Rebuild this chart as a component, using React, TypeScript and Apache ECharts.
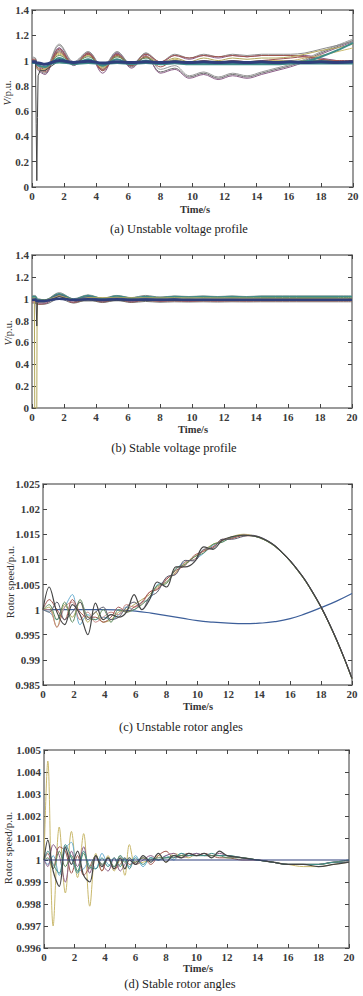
import React, { useEffect, useRef } from "react";
import * as echarts from "echarts";

// ---------- shared time bases ----------
const T_OSC = [0, 0.2, 0.3, 0.4, 0.8, 1.7, 2.6, 3.5, 4.4, 5.3, 6.2, 7.1, 8.0, 8.9, 9.8, 10.7, 11.6, 12.5, 13.4, 14.3, 15.2, 16.1, 17, 18, 19, 20];

// ---------- (a) unstable voltage profile ----------
const A1 = [1.0, 1.0, 0.95, 0.93, 0.9, 1.08, 0.97, 1.05, 0.92, 1.05, 0.95, 1.03, 0.91, 0.94, 0.87, 0.9, 0.86, 0.89, 0.87, 0.9, 0.93, 0.96, 1.0, 1.06, 1.11, 1.16];
const A2 = [1.0, 0.99, 0.94, 0.92, 0.89, 1.1, 0.96, 1.06, 0.9, 1.06, 0.94, 1.04, 0.9, 0.93, 0.86, 0.89, 0.85, 0.88, 0.86, 0.89, 0.92, 0.95, 0.99, 1.05, 1.1, 1.15];
const A3 = [1.02, 1.02, 0.98, 0.96, 0.93, 1.12, 0.98, 1.07, 0.94, 1.07, 0.96, 1.06, 0.99, 1.05, 1.02, 1.05, 1.03, 1.05, 1.04, 1.05, 1.05, 1.05, 1.06, 1.09, 1.12, 1.15];
const A4 = [1.01, 1.0, 0.97, 0.95, 0.92, 1.1, 0.97, 1.06, 0.93, 1.06, 0.96, 1.05, 0.98, 1.04, 1.01, 1.04, 1.02, 1.04, 1.03, 1.04, 1.04, 1.04, 1.04, 1.02, 1.0, 0.99];
const A5 = [1.0, 1.0, 0.97, 0.96, 0.94, 1.06, 0.97, 1.04, 0.95, 1.04, 0.97, 1.03, 0.98, 1.02, 0.99, 1.02, 1.0, 1.02, 1.01, 1.02, 1.02, 1.03, 1.05, 1.08, 1.1, 1.13];
const A6 = [0.98, 0.98, 0.97, 0.96, 0.95, 1.02, 0.97, 1.01, 0.96, 1.01, 0.97, 1.0, 0.97, 0.98, 0.97, 0.97, 0.97, 0.97, 0.97, 0.97, 0.97, 0.98, 0.99, 1.03, 1.08, 1.14];
const A7 = [1.0, 0.99, 0.95, 0.94, 0.91, 1.07, 0.97, 1.05, 0.92, 1.04, 0.96, 1.03, 0.95, 1.0, 0.97, 1.0, 0.98, 1.0, 0.99, 1.0, 1.01, 1.02, 1.03, 1.01, 0.99, 0.98];
const A8 = [0.99, 0.99, 0.97, 0.96, 0.95, 1.04, 0.98, 1.03, 0.96, 1.03, 0.98, 1.02, 0.97, 1.0, 0.98, 0.99, 0.98, 0.99, 0.98, 0.99, 0.99, 0.99, 1.0, 1.0, 0.99, 0.98];
const A9 = [1.03, 1.02, 0.98, 0.97, 0.94, 1.13, 0.99, 1.07, 0.95, 1.07, 0.97, 1.06, 0.93, 0.96, 0.88, 0.91, 0.87, 0.9, 0.88, 0.91, 0.94, 0.97, 1.01, 1.07, 1.12, 1.17];
const A10 = [1.0, 0.98, 0.94, 0.93, 0.93, 1.05, 0.98, 1.04, 0.94, 1.03, 0.97, 1.03, 0.97, 1.01, 0.98, 1.0, 0.99, 1.0, 0.99, 1.0, 1.0, 1.0, 1.02, 1.04, 1.07, 1.1];
const A11 = [1.01, 1.01, 0.97, 0.96, 0.93, 1.09, 0.97, 1.06, 0.93, 1.05, 0.96, 1.05, 0.99, 1.04, 1.02, 1.04, 1.03, 1.04, 1.03, 1.04, 1.04, 1.04, 1.03, 1.01, 1.0, 1.0];
const A12 = [0.99, 0.99, 0.98, 0.98, 0.97, 1.0, 0.985, 0.995, 0.98, 0.99, 0.985, 0.99, 0.985, 0.99, 0.985, 0.99, 0.985, 0.99, 0.985, 0.99, 0.985, 0.99, 0.985, 0.99, 0.985, 0.99];
const A13 = [0.98, 0.98, 0.975, 0.97, 0.97, 0.985, 0.975, 0.98, 0.975, 0.98, 0.975, 0.98, 0.975, 0.978, 0.975, 0.977, 0.975, 0.977, 0.975, 0.977, 0.976, 0.977, 0.977, 0.977, 0.977, 0.977];
const T_A_DIP = [0, 0.22, 0.26, 0.3, 0.34, 0.38, 0.5, 0.8, 1.7, 2.6, 3.5, 4.4, 5.3, 6.2, 7.1, 8, 20];
const A_DIP = [0.99, 0.98, 0.5, 0.05, 0.55, 0.88, 0.92, 0.92, 1.0, 0.97, 1.0, 0.97, 0.99, 0.98, 0.99, 0.98, 0.98];

// ---------- (b) stable voltage profile ----------
const B1 = [1.03, 1.03, 1.01, 1.0, 0.99, 1.055, 1.0, 1.035, 1.005, 1.03, 1.01, 1.03, 1.015, 1.025, 1.02, 1.025, 1.02, 1.025, 1.02, 1.025, 1.025, 1.025, 1.025, 1.025, 1.025, 1.025];
const B2 = [1.02, 1.02, 1.0, 0.99, 0.985, 1.045, 0.995, 1.03, 1.0, 1.025, 1.005, 1.02, 1.01, 1.02, 1.015, 1.02, 1.015, 1.02, 1.015, 1.02, 1.02, 1.02, 1.02, 1.02, 1.02, 1.02];
const B3 = [0.97, 0.97, 0.955, 0.95, 0.955, 1.02, 0.965, 1.0, 0.97, 0.995, 0.97, 0.985, 0.975, 0.98, 0.975, 0.98, 0.977, 0.98, 0.978, 0.98, 0.98, 0.98, 0.98, 0.98, 0.98, 0.98];
const B4 = [0.98, 0.98, 0.965, 0.96, 0.96, 1.03, 0.97, 1.01, 0.975, 1.0, 0.975, 0.99, 0.98, 0.985, 0.98, 0.985, 0.982, 0.984, 0.983, 0.984, 0.984, 0.984, 0.984, 0.984, 0.984, 0.984];
const B5 = [1.0, 1.0, 0.99, 0.985, 0.98, 1.035, 0.985, 1.015, 0.99, 1.01, 0.99, 1.005, 0.995, 1.0, 0.985, 0.995, 0.99, 0.995, 0.99, 0.995, 0.993, 0.995, 0.995, 0.995, 0.995, 0.995];
const B6 = [0.96, 0.96, 0.95, 0.95, 0.95, 1.0, 0.96, 0.99, 0.965, 0.985, 0.965, 0.975, 0.968, 0.972, 0.97, 0.972, 0.97, 0.972, 0.971, 0.972, 0.972, 0.972, 0.972, 0.972, 0.972, 0.972];
const B7 = [1.01, 1.01, 0.995, 0.99, 0.99, 1.04, 0.99, 1.02, 0.995, 1.015, 1.0, 1.01, 1.005, 1.01, 1.005, 1.01, 1.007, 1.01, 1.008, 1.01, 1.01, 1.01, 1.01, 1.01, 1.01, 1.01];
const B8 = [0.99, 0.99, 0.98, 0.98, 0.98, 1.0, 0.99, 0.995, 0.99, 0.995, 0.99, 0.993, 0.99, 0.992, 0.99, 0.991, 0.99, 0.99, 0.99, 0.99, 0.99, 0.99, 0.99, 0.99, 0.99, 0.99];
const T_B_DIP1 = [0, 0.15, 0.17, 0.3, 0.32, 0.4, 0.8, 1.7, 2.6, 3.5, 20];
const B_DIP1 = [1.0, 1.0, 0.0, 0.0, 0.97, 0.98, 0.98, 1.03, 0.99, 1.01, 1.0];
const T_B_DIP2 = [0, 0.25, 0.3, 0.34, 0.4, 0.8, 1.7, 2.6, 20];
const B_DIP2 = [0.99, 0.99, 0.75, 0.96, 0.97, 0.97, 1.02, 0.98, 0.99];

// ---------- (c) unstable rotor angles ----------
const T_C = [0, 0.4, 0.9, 1.4, 1.9, 2.4, 2.9, 3.4, 3.9, 4.4, 4.9, 5.4, 5.9, 6.4, 6.9, 7.4, 8, 8.6, 9.2, 9.8, 10.4, 11, 11.6, 12.2, 13, 13.5, 14, 14.5, 15, 15.5, 16, 16.5, 17, 17.5, 18, 18.5, 19, 19.5, 20];
const C1 = [1.0, 1.0045, 0.9995, 0.997, 1.001, 0.999, 0.995, 1.0013, 0.998, 0.999, 0.9985, 0.9995, 1.003, 1.0, 1.002, 1.0055, 1.0045, 1.0085, 1.0085, 1.0095, 1.0125, 1.012, 1.0138, 1.0145, 1.0148, 1.0147, 1.0144, 1.0137, 1.0127, 1.0113, 1.0097, 1.0078, 1.0057, 1.0032, 1.0005, 0.9974, 0.994, 0.9903, 0.9863];
const C2 = [1.0, 0.9995, 0.998, 1.0005, 1.003, 0.997, 0.999, 0.998, 0.9985, 0.998, 0.999, 1.0005, 1.0, 1.0015, 1.002, 1.005, 1.0055, 1.008, 1.0095, 1.01, 1.0112, 1.0128, 1.0135, 1.0143, 1.0149, 1.0147, 1.0144, 1.0137, 1.0127, 1.0113, 1.0097, 1.0078, 1.0057, 1.0032, 1.0005, 0.9974, 0.994, 0.9903, 0.9863];
const C3 = [1.0, 1.0005, 0.9965, 1.001, 0.9985, 1.0015, 0.9975, 0.9995, 0.9975, 0.998, 0.9995, 1.0, 1.001, 1.002, 1.003, 1.0045, 1.0055, 1.0075, 1.0092, 1.0105, 1.0118, 1.013, 1.0137, 1.0145, 1.015, 1.0148, 1.0143, 1.0136, 1.0126, 1.0112, 1.0096, 1.0077, 1.0056, 1.0031, 1.0004, 0.9973, 0.9939, 0.9902, 0.9862];
const C4 = [1.0, 1.002, 1.0, 0.998, 1.002, 0.9995, 0.9985, 0.9985, 0.9975, 0.9985, 1.0005, 0.9995, 1.0005, 1.0015, 1.0035, 1.004, 1.006, 1.0078, 1.0088, 1.0108, 1.0116, 1.0125, 1.0138, 1.0142, 1.0147, 1.0147, 1.0144, 1.0137, 1.0127, 1.0113, 1.0097, 1.0078, 1.0057, 1.0032, 1.0005, 0.9974, 0.994, 0.9903, 0.9863];
const C5 = [1.0, 0.9995, 1.0015, 0.998, 0.9995, 1.0015, 0.998, 0.9995, 1.0005, 0.998, 0.9985, 1.0005, 1.0015, 1.0, 1.0025, 1.0035, 1.0065, 1.007, 1.0098, 1.0097, 1.012, 1.0122, 1.014, 1.014, 1.0146, 1.0148, 1.0145, 1.0138, 1.0128, 1.0114, 1.0098, 1.0079, 1.0058, 1.0033, 1.0006, 0.9975, 0.9941, 0.9904, 0.9864];
const C6 = [1.0, 1.001, 0.998, 1.0015, 0.9975, 1.002, 0.9985, 0.998, 1.0, 0.9975, 1.0, 0.9995, 1.0, 1.001, 1.0025, 1.0048, 1.0052, 1.0082, 1.009, 1.0105, 1.0113, 1.013, 1.0134, 1.0144, 1.0148, 1.0147, 1.0143, 1.0136, 1.0126, 1.0112, 1.0096, 1.0077, 1.0056, 1.0031, 1.0004, 0.9973, 0.9939, 0.9902, 0.9862];
const C7 = [1.0, 1.0, 0.9965, 1.0005, 1.0015, 0.998, 0.9995, 0.9975, 0.9985, 0.9995, 0.999, 1.001, 1.0005, 1.0012, 1.0035, 1.0042, 1.0062, 1.0072, 1.0095, 1.01, 1.0118, 1.0123, 1.014, 1.0141, 1.0149, 1.0147, 1.0144, 1.0137, 1.0127, 1.0113, 1.0097, 1.0078, 1.0057, 1.0032, 1.0005, 0.9974, 0.994, 0.9903, 0.9863];
const T_C_BLUE = [0, 2, 4, 5, 6, 7, 8, 9, 10, 11, 12, 13, 14, 15, 16, 17, 18, 19, 20];
const C_BLUE = [1.0, 1.0, 1.0, 0.9999, 0.9997, 0.9993, 0.9988, 0.9983, 0.9978, 0.9975, 0.9973, 0.9972, 0.9973, 0.9976, 0.9982, 0.9992, 1.0004, 1.0017, 1.0032];

// ---------- (d) stable rotor angles ----------
const T_D = [0, 0.25, 0.6, 1.0, 1.4, 1.8, 2.2, 2.6, 3.0, 3.4, 3.8, 4.2, 4.6, 5.0, 5.3, 5.6, 6.0, 6.5, 7.0, 7.5, 8.0, 8.5, 9.0, 9.5, 10, 10.5, 11, 11.5, 12, 13, 14, 15, 16, 17, 18, 19, 20];
const D1 = [1.0, 1.0045, 0.997, 1.0015, 0.9985, 1.0013, 0.9992, 1.0012, 0.9979, 1.0003, 0.9995, 1.0002, 0.9995, 1.0, 0.9993, 1.0007, 0.9998, 0.9999, 1.0, 1.0002, 0.9999, 1.0003, 1.0002, 1.0001, 1.0003, 1.0002, 1.0002, 1.0002, 1.0002, 1.0001, 1.0, 0.9999, 0.9998, 0.9997, 0.9997, 0.9998, 0.9999];
const D2 = [1.0, 1.0009, 0.9995, 0.9988, 1.0006, 0.9998, 1.0004, 0.9993, 0.999, 1.0002, 0.9997, 1.0001, 0.9996, 1.0001, 0.9996, 1.0, 0.9998, 1.0002, 0.9999, 1.0003, 0.9999, 1.0002, 1.0001, 1.0003, 1.0002, 1.0003, 1.0001, 1.0004, 1.0002, 1.0001, 1.0, 0.9999, 0.9998, 0.9998, 0.9997, 0.9998, 0.9999];
const D3 = [1.0, 0.9998, 1.0002, 0.9993, 1.0005, 1.0008, 0.9995, 0.9996, 1.0, 0.9996, 1.0003, 0.9998, 0.9997, 1.0002, 1.0, 0.9997, 1.0002, 0.9997, 1.0001, 1.0, 1.0002, 1.0, 1.0003, 1.0002, 1.0003, 1.0002, 1.0002, 1.0002, 1.0002, 1.0001, 1.0, 0.9999, 0.9998, 0.9998, 0.9998, 0.9999, 1.0];
const D4 = [1.0, 1.0003, 0.9996, 1.0006, 1.0004, 0.9994, 1.0002, 0.9993, 0.9997, 1.0002, 0.9995, 1.0001, 0.9996, 0.9998, 1.0001, 0.9998, 0.9999, 1.0001, 0.9998, 1.0002, 1.0004, 1.0001, 1.0002, 1.0003, 1.0002, 1.0003, 1.0002, 1.0001, 1.0001, 1.0, 1.0, 0.9999, 0.9998, 0.9998, 0.9998, 0.9999, 0.9999];
const D5 = [1.0, 0.9997, 1.0007, 1.0002, 0.999, 1.0004, 0.9997, 1.0006, 0.9994, 1.0001, 0.9998, 0.9995, 1.0001, 0.9995, 0.9998, 1.0001, 0.9998, 1.0, 1.0002, 1.0, 1.0002, 1.0003, 1.0001, 1.0002, 1.0003, 1.0002, 1.0002, 1.0003, 1.0002, 1.0001, 1.0, 0.9999, 0.9998, 0.9998, 0.9998, 0.9999, 0.9999];
const D6 = [1.0, 1.0001, 0.9996, 1.0004, 0.9997, 1.0002, 0.9995, 1.0003, 0.9996, 1.0002, 0.9998, 1.0001, 0.9997, 1.0002, 0.9999, 1.0001, 0.9999, 1.0001, 1.0, 1.0001, 1.0001, 1.0002, 1.0002, 1.0002, 1.0002, 1.0002, 1.0002, 1.0002, 1.0001, 1.0001, 1.0, 0.9999, 0.9998, 0.9998, 0.9998, 0.9999, 1.0];
const D7 = [1.0, 1.0004, 0.9998, 0.9994, 1.0007, 1.0001, 0.9994, 1.0004, 0.9997, 0.9996, 1.0001, 0.9997, 1.0001, 0.9997, 1.0001, 0.9996, 1.0001, 0.9998, 1.0001, 1.0, 1.0001, 1.0001, 1.0003, 1.0002, 1.0002, 1.0002, 1.0003, 1.0002, 1.0002, 1.0001, 1.0, 0.9999, 0.9998, 0.9998, 0.9998, 0.9999, 0.9999];
const T_D_FLAT = [0, 20];
const D_FLAT = [1.0, 1.0];

// ---------- axis ticks ----------
const X_TICKS = { min: 0, max: 20, interval: 2 };
const Y_A = { min: 0, max: 1.4, interval: 0.2 };
const Y_B = { min: 0, max: 1.4, interval: 0.2 };
const Y_C = { min: 0.985, max: 1.025, interval: 0.005 };
const Y_D = { min: 0.996, max: 1.005, interval: 0.001 };

const CAPTIONS = ["(a) Unstable voltage profile", "(b) Stable voltage profile", "(c) Unstable rotor angles", "(d) Stable rotor angles"];

const SERIF = "'Liberation Serif', 'Times New Roman', serif";
const AX = "#7a7a7a";
const LBL = "#3a3a3a";

const GRIDS = [
  { left: 32, top: 10, width: 321, height: 177 },
  { left: 32, top: 255, width: 320, height: 153 },
  { left: 43, top: 484, width: 309, height: 201 },
  { left: 44, top: 750, width: 305, height: 198 },
];

const fmt = (v: number) => String(parseFloat(v.toFixed(4)));

const labelStyle = { color: LBL, fontFamily: SERIF, fontSize: 11, fontWeight: "bold" as const };

function xAxes(g: number) {
  const base = {
    type: "value",
    gridIndex: g,
    ...X_TICKS,
    axisLine: { show: true, onZero: false, lineStyle: { color: AX, width: 1.5 } },
    axisTick: { show: true, inside: true, length: 4, lineStyle: { color: "#444" } },
    splitLine: { show: false },
  };
  return [
    { ...base, position: "bottom", axisLabel: { show: true, ...labelStyle, margin: 3, formatter: fmt } },
    { ...base, position: "top", axisLabel: { show: false } },
  ];
}

function yAxes(g: number, r: { min: number; max: number; interval: number }) {
  const base = {
    type: "value",
    gridIndex: g,
    ...r,
    axisLine: { show: true, onZero: false, lineStyle: { color: AX, width: 1.5 } },
    axisTick: { show: true, inside: true, length: 4, lineStyle: { color: "#444" } },
    splitLine: { show: false },
  };
  return [
    { ...base, position: "left", axisLabel: { show: true, ...labelStyle, margin: 3, formatter: fmt } },
    { ...base, position: "right", axisLabel: { show: false } },
  ];
}

function line(g: number, t: number[], v: number[], color: string, width = 1, smooth: boolean | number = 0.35) {
  return {
    type: "line",
    xAxisIndex: 2 * g,
    yAxisIndex: 2 * g,
    data: t.map((x, i) => [x, v[i]]),
    smooth,
    symbol: "none",
    silent: true,
    lineStyle: { color, width },
  };
}

const C = {
  gray: "#707070",
  dark: "#454545",
  purple: "#8a5c86",
  olive: "#b3a85a",
  teal: "#3f8c88",
  navy: "#2f3f7c",
  brown: "#a0564f",
  lblue: "#6aaed0",
  green: "#5f8a5c",
  khaki: "#c9b86c",
  pink: "#c98a86",
  blue: "#3d5f9a",
};

export default function App() {
  const ref = useRef<HTMLDivElement>(null);
  useEffect(() => {
    if (!ref.current) return;
    const chart = echarts.init(ref.current, undefined, { renderer: "svg" });

    const series = [
      // (a)
      line(0, T_OSC, A9, "#9a9a9a"),
      line(0, T_OSC, A1, C.gray),
      line(0, T_OSC, A2, C.purple),
      line(0, T_OSC, A3, "#8c8c8c"),
      line(0, T_OSC, A4, C.purple),
      line(0, T_OSC, A11, C.brown),
      line(0, T_OSC, A5, C.olive),
      line(0, T_OSC, A10, C.khaki),
      line(0, T_OSC, A7, C.brown),
      line(0, T_OSC, A8, C.green),
      line(0, T_OSC, A6, C.teal, 2),
      line(0, T_A_DIP, A_DIP, C.dark, 1, false),
      line(0, T_OSC, A13, C.teal, 2),
      line(0, T_OSC, A12, C.navy, 3),
      // (b)
      line(1, T_OSC, B6, C.gray),
      line(1, T_OSC, B3, C.brown),
      line(1, T_OSC, B4, C.purple),
      line(1, T_OSC, B1, "#8c8c8c"),
      line(1, T_OSC, B2, C.teal, 1.5),
      line(1, T_OSC, B7, C.green),
      line(1, T_OSC, B5, C.blue, 1.5),
      line(1, T_B_DIP1, B_DIP1, C.olive, 1, false),
      line(1, T_B_DIP2, B_DIP2, C.dark, 1, false),
      line(1, T_OSC, B8, C.navy, 2.5),
      // (c)
      line(2, T_C_BLUE, C_BLUE, C.blue, 1.2, 0.5),
      line(2, T_C, C2, C.lblue),
      line(2, T_C, C3, C.olive),
      line(2, T_C, C7, C.pink),
      line(2, T_C, C4, C.brown),
      line(2, T_C, C6, C.green),
      line(2, T_C, C5, "#5a5a6a"),
      line(2, T_C, C1, C.dark, 1.2),
      // (d)
      line(3, T_D, D1, C.khaki),
      line(3, T_D, D3, C.lblue),
      line(3, T_D, D4, C.brown),
      line(3, T_D, D5, C.purple),
      line(3, T_D, D6, C.green),
      line(3, T_D, D7, C.teal),
      line(3, T_D, D2, C.dark, 1.2),
      line(3, T_D_FLAT, D_FLAT, C.navy, 1.2, false),
    ];

    const textStyle = (size: number) => ({ fill: "#222", fontFamily: SERIF, fontSize: size });
    const capY = [229, 448, 727, 984];
    const capX = [179, 174, 181, 180];
    const timeX = [195, 193, 198, 198];
    const timeY = [209, 429, 706, 968];
    const yName = [
      { x: 7, y: 93, text: "{i|V}/p.u." },
      { x: 8, y: 333, text: "{i|V}/p.u." },
      { x: 10, y: 582, text: "Rotor speed/p.u." },
      { x: 8, y: 848, text: "Rotor speed/p.u." },
    ];
    const graphic: any[] = [];
    for (let g = 0; g < 4; g++) {
      graphic.push({
        type: "text",
        x: capX[g],
        y: capY[g],
        style: { ...textStyle(12.5), text: CAPTIONS[g], align: "center", verticalAlign: "middle" },
      });
      graphic.push({
        type: "text",
        x: timeX[g],
        y: timeY[g],
        style: { ...textStyle(10.5), fill: "#333", fontWeight: "bold", text: "Time/s", align: "center", verticalAlign: "middle" },
      });
      graphic.push({
        type: "text",
        x: yName[g].x,
        y: yName[g].y,
        rotation: Math.PI / 2,
        style: {
          ...textStyle(g < 2 ? 10.5 : 11),
          fill: "#333",
          text: yName[g].text,
          align: "center",
          verticalAlign: "middle",
          rich: { i: { fontStyle: "italic", fontFamily: SERIF, fontSize: 10.5, fill: "#333" } },
        },
      });
    }

    chart.setOption({
      animation: false,
      backgroundColor: "#ffffff",
      grid: GRIDS,
      xAxis: [0, 1, 2, 3].flatMap((g) => xAxes(g)),
      yAxis: [
        ...yAxes(0, Y_A),
        ...yAxes(1, Y_B),
        ...yAxes(2, Y_C),
        ...yAxes(3, Y_D),
      ],
      series,
      graphic,
    });
    return () => chart.dispose();
  }, []);

  return (
    <div
      ref={ref}
      style={{ position: "absolute", left: 0, top: 0, width: 363, height: 996, background: "#fff" }}
    />
  );
}
